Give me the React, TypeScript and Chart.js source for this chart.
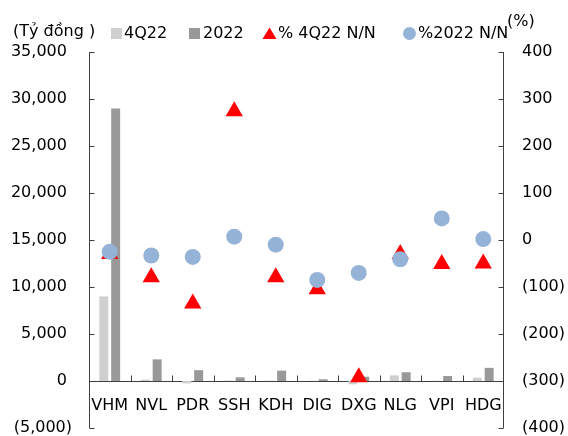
import React, { useEffect, useRef } from 'react';
import { Chart, registerables } from 'chart.js';

Chart.register(...registerables);

const categories = ['VHM', 'NVL', 'PDR', 'SSH', 'KDH', 'DIG', 'DXG', 'NLG', 'VPI', 'HDG'];
const q4Values = [9000, 150, -250, 50, 30, 20, -350, 600, 20, 350];
const yearValues = [29000, 2300, 1150, 390, 1100, 180, 460, 930, 530, 1400];
const q4Growth = [-30, -79, -135, 274, -79, -105, -292, -30, -51, -50];
const yearGrowth = [-25, -33, -36, 7, -10, -85, -70, -41, 46, 2];

const seriesNames = ['4Q22', '2022', '% 4Q22 N/N', '%2022 N/N'];
const leftUnit = '(Tỷ đồng )';
const rightUnit = '(%)';
const leftRange = [-5000, 35000, 5000];
const rightRange = [-400, 400, 100];

const FONT = '"DejaVu Sans", Verdana, sans-serif';
const AXIS = '#3f3f3f';
const C_Q4 = '#cfcfcf';
const C_YEAR = '#999999';
const C_TRI = '#ff0000';
const C_CIR = '#95b3d7';

const fmtLeft = (v: number) =>
  v < 0 ? `(${(-v).toLocaleString('en-US')})` : `${v.toLocaleString('en-US')} `;
const fmtRight = (v: number) => (v < 0 ? `(${-v})` : `${v}`);

const axesPlugin = {
  id: 'axesPlugin',
  beforeDatasetsDraw(chart: any) {
    const { ctx, chartArea: a, scales } = chart;
    const y = scales.y;
    const y1 = scales.y1;
    const x = scales.x;
    ctx.save();
    ctx.strokeStyle = AXIS;
    ctx.lineWidth = 1;
    const L = Math.round(a.left) + 0.5;
    const R = Math.round(a.right) - 0.5;
    ctx.beginPath();
    ctx.moveTo(L, a.top);
    ctx.lineTo(L, a.bottom);
    y.ticks.forEach((t: any) => {
      const py = Math.round(y.getPixelForValue(t.value)) + 0.5;
      ctx.moveTo(L, py);
      ctx.lineTo(L + 5, py);
    });
    ctx.moveTo(R, a.top);
    ctx.lineTo(R, a.bottom);
    y1.ticks.forEach((t: any) => {
      const py = Math.round(y1.getPixelForValue(t.value)) + 0.5;
      ctx.moveTo(R - 5, py);
      ctx.lineTo(R, py);
    });
    const zy = Math.round(y.getPixelForValue(0)) + 0.5;
    ctx.moveTo(a.left, zy);
    ctx.lineTo(a.right, zy);
    for (let i = 1; i < categories.length; i++) {
      const px = Math.round((x.getPixelForTick(i - 1) + x.getPixelForTick(i)) / 2) + 0.5;
      ctx.moveTo(px, zy);
      ctx.lineTo(px, zy - 6);
    }
    ctx.stroke();
    ctx.restore();
  },
  afterDraw(chart: any) {
    const { ctx } = chart;
    const ds = chart.data.datasets;
    ctx.save();
    ctx.font = `16px ${FONT}`;
    ctx.fillStyle = '#000';
    ctx.textBaseline = 'middle';
    ctx.textAlign = 'left';
    const cy = 33.5;
    ctx.fillText(leftUnit, 13, 32);
    ctx.fillStyle = ds[0].backgroundColor;
    ctx.fillRect(111, 28, 11, 11);
    ctx.fillStyle = '#000';
    ctx.fillText(ds[0].label, 124, cy);
    ctx.fillStyle = ds[1].backgroundColor;
    ctx.fillRect(189, 28, 11, 11);
    ctx.fillStyle = '#000';
    ctx.fillText(ds[1].label, 203, cy);
    ctx.fillStyle = ds[2].pointBackgroundColor;
    ctx.beginPath();
    ctx.moveTo(269.5, 27.5);
    ctx.lineTo(276.5, 39);
    ctx.lineTo(262.5, 39);
    ctx.closePath();
    ctx.fill();
    ctx.fillStyle = '#000';
    ctx.fillText(ds[2].label, 278, cy);
    ctx.fillStyle = ds[3].pointBackgroundColor;
    ctx.beginPath();
    ctx.arc(409.5, 33.5, 6.5, 0, Math.PI * 2);
    ctx.fill();
    ctx.fillStyle = '#000';
    ctx.fillText(ds[3].label, 418, cy);
    ctx.fillText(rightUnit, 507, 22);
    ctx.restore();
  },
};

export default function App() {
  const ref = useRef<HTMLCanvasElement | null>(null);
  useEffect(() => {
    if (!ref.current) return;
    Chart.defaults.font.family = FONT;
    Chart.defaults.font.size = 16;
    Chart.defaults.color = '#000';
    const chart = new Chart(ref.current, {
      type: 'bar',
      data: {
        labels: categories,
        datasets: [
          {
            type: 'bar',
            label: seriesNames[0],
            data: q4Values,
            backgroundColor: C_Q4,
            yAxisID: 'y',
            order: 2,
            categoryPercentage: 0.57,
            barPercentage: 0.76,
          },
          {
            type: 'bar',
            label: seriesNames[1],
            data: yearValues,
            backgroundColor: C_YEAR,
            yAxisID: 'y',
            order: 2,
            categoryPercentage: 0.57,
            barPercentage: 0.76,
          },
          {
            type: 'line',
            label: seriesNames[2],
            data: q4Growth,
            showLine: false,
            yAxisID: 'y1',
            order: 1,
            pointStyle: 'triangle',
            pointRadius: 10,
            pointBorderWidth: 0,
            pointBackgroundColor: C_TRI,
            pointBorderColor: C_TRI,
            backgroundColor: C_TRI,
            borderColor: C_TRI,
          },
          {
            type: 'line',
            label: seriesNames[3],
            data: yearGrowth,
            showLine: false,
            yAxisID: 'y1',
            order: 0,
            pointStyle: 'circle',
            pointRadius: 8,
            pointBorderWidth: 0,
            pointBackgroundColor: C_CIR,
            pointBorderColor: C_CIR,
            backgroundColor: C_CIR,
            borderColor: C_CIR,
          },
        ],
      },
      options: {
        animation: false,
        responsive: false,
        events: [],
        layout: { autoPadding: false, padding: { top: 52, bottom: 8, left: 0, right: 0 } },
        plugins: { legend: { display: false }, tooltip: { enabled: false } },
        scales: {
          x: {
            position: { y: 0 } as any,
            grid: { display: false, drawTicks: false },
            border: { display: false },
            ticks: { padding: 15, font: { size: 16, family: FONT }, maxRotation: 0, autoSkip: false },
            afterFit: (s: any) => {
              s.height = 0;
              s.paddingLeft = 0;
              s.paddingRight = 0;
            },
          },
          y: {
            position: 'left',
            min: leftRange[0],
            max: leftRange[1],
            grid: { display: false, drawTicks: false },
            border: { display: false },
            ticks: { stepSize: leftRange[2], padding: 17, callback: (v: any) => fmtLeft(Number(v)) },
            afterFit: (s: any) => {
              s.width = 89;
              s.paddingTop = 0;
              s.paddingBottom = 0;
            },
          },
          y1: {
            position: 'right',
            min: rightRange[0],
            max: rightRange[1],
            grid: { display: false, drawTicks: false },
            border: { display: false },
            ticks: { stepSize: rightRange[2], padding: 18, callback: (v: any) => fmtRight(Number(v)) },
            afterFit: (s: any) => {
              s.width = 64;
              s.paddingTop = 0;
              s.paddingBottom = 0;
            },
          },
        },
      },
      plugins: [axesPlugin],
    });
    return () => chart.destroy();
  }, []);
  return (
    <div style={{ position: 'absolute', left: 0, top: 0, width: 568, height: 436, background: '#fff' }}>
      <canvas ref={ref} width={568} height={436} style={{ display: 'block' }} />
    </div>
  );
}
